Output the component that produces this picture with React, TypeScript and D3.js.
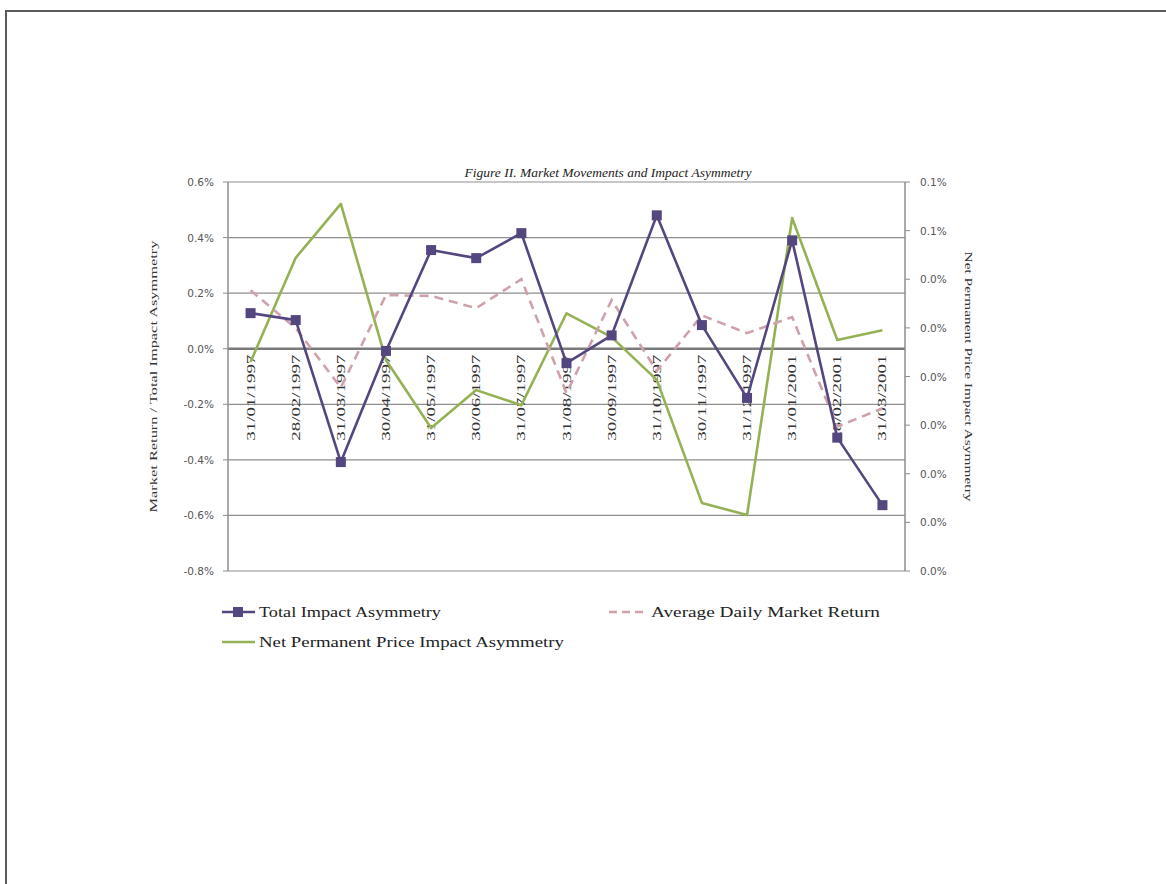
import React from "react";
import * as d3 from "d3";

const categories = [
  "31/01/1997", "28/02/1997", "31/03/1997", "30/04/1997", "31/05/1997",
  "30/06/1997", "31/07/1997", "31/08/1997", "30/09/1997", "31/10/1997",
  "30/11/1997", "31/12/1997", "31/01/2001", "28/02/2001", "31/03/2001",
];

// left axis, in percent
const totalImpact = [
  0.128, 0.103, -0.408, -0.008, 0.355, 0.326, 0.416, -0.052, 0.048, 0.48,
  0.085, -0.177, 0.39, -0.32, -0.563,
];
const marketReturn = [
  0.21, 0.074, -0.14, 0.193, 0.19, 0.146, 0.25, -0.16, 0.175, -0.08, 0.12,
  0.056, 0.114, -0.28, -0.215,
];

// right axis, in percent
const netPermanent = [
  0.023, 0.0444, 0.0555, 0.0234, 0.0094, 0.0172, 0.0141, 0.033, 0.0281,
  0.0193, -0.006, -0.0085, 0.0526, 0.0275, 0.0295,
];

const leftTicks = [0.6, 0.4, 0.2, 0.0, -0.2, -0.4, -0.6, -0.8];
const leftTickLabels = ["0.6%", "0.4%", "0.2%", "0.0%", "-0.2%", "-0.4%", "-0.6%", "-0.8%"];
const rightTicks = [0.06, 0.05, 0.04, 0.03, 0.02, 0.01, 0.0, -0.01, -0.02];
const rightTickLabels = ["0.1%", "0.1%", "0.0%", "0.0%", "0.0%", "0.0%", "0.0%", "0.0%", "0.0%"];

const W = 1166;
const H = 884;
const plot = { left: 228, right: 905, top: 182, bottom: 571 };

const PURPLE = "#54467f";
const PINK = "#cfa1aa";
const GREEN = "#94b254";
const GRID = "#8e8e8e";
const SERIF = "'Liberation Serif', 'DejaVu Serif', serif";
const SANS = "'DejaVu Sans', 'Liberation Sans', sans-serif";

export default function App() {
  const x = d3
    .scalePoint<string>()
    .domain(categories)
    .range([plot.left, plot.right])
    .padding(0.5);
  const yL = d3.scaleLinear().domain([-0.8, 0.6]).range([plot.bottom, plot.top]);
  const yR = d3.scaleLinear().domain([-0.02, 0.06]).range([plot.bottom, plot.top]);

  const lineL = d3
    .line<number>()
    .x((_, i) => x(categories[i]) as number)
    .y((d) => yL(d));
  const lineR = d3
    .line<number>()
    .x((_, i) => x(categories[i]) as number)
    .y((d) => yR(d));

  const zeroY = yL(0);

  return (
    <div style={{ position: "absolute", left: 0, top: 0 }}>
      <svg width={W} height={H} style={{ display: "block", background: "#fff" }}>
        {/* page frame */}
        <path d={`M6,${H} V11 H${W}`} fill="none" stroke="#5a5a5a" strokeWidth={2} />

        <text
          x={608}
          y={177}
          textAnchor="middle"
          fontFamily={SERIF}
          fontStyle="italic"
          fontSize={13.5}
          fill="#222"
        >
          Figure II. Market Movements and Impact Asymmetry
        </text>

        {/* gridlines */}
        {leftTicks.map((t) => (
          <line
            key={"g" + t}
            x1={plot.left}
            x2={plot.right}
            y1={yL(t)}
            y2={yL(t)}
            stroke={t === 0 ? "#7a7a7a" : GRID}
            strokeWidth={t === 0 ? 2.5 : 1.2}
          />
        ))}

        {/* axes */}
        <line x1={plot.left} x2={plot.left} y1={plot.top} y2={plot.bottom} stroke={GRID} strokeWidth={1.5} />
        <line x1={plot.right} x2={plot.right} y1={plot.top} y2={plot.bottom} stroke={GRID} strokeWidth={1.5} />

        {leftTicks.map((t, i) => (
          <g key={"l" + t}>
            <line x1={plot.left - 5} x2={plot.left} y1={yL(t)} y2={yL(t)} stroke={GRID} />
            <text
              x={plot.left - 14}
              y={yL(t) + 4}
              textAnchor="end"
              fontFamily={SANS}
              fontSize={10.5}
              fill="#555"
            >
              {leftTickLabels[i]}
            </text>
          </g>
        ))}

        {rightTicks.map((t, i) => (
          <g key={"r" + t}>
            <line x1={plot.right} x2={plot.right + 5} y1={yR(t)} y2={yR(t)} stroke={GRID} />
            <text
              x={plot.right + 15}
              y={yR(t) + 4}
              textAnchor="start"
              fontFamily={SANS}
              fontSize={10.5}
              fill="#555"
            >
              {rightTickLabels[i]}
            </text>
          </g>
        ))}

        {/* axis titles */}
        <text
          transform={`translate(157, ${(plot.top + plot.bottom) / 2}) rotate(-90)`}
          textAnchor="middle"
          fontFamily={SERIF}
          fontSize={10}
          textLength={272}
          lengthAdjust="spacingAndGlyphs"
          fill="#333"
        >
          Market Return / Total Impact Asymmetry
        </text>
        <text
          transform={`translate(965, ${(plot.top + plot.bottom) / 2}) rotate(90)`}
          textAnchor="middle"
          fontFamily={SERIF}
          fontSize={10}
          textLength={250}
          lengthAdjust="spacingAndGlyphs"
          fill="#333"
        >
          Net Permanent Price Impact Asymmetry
        </text>

        {/* category labels */}
        {categories.map((c) => (
          <text
            key={c}
            transform={`translate(${(x(c) as number) + 4}, ${zeroY + 6}) rotate(-90)`}
            textAnchor="end"
            fontFamily={SERIF}
            fontSize={12}
            textLength={86}
            lengthAdjust="spacingAndGlyphs"
            fill="#333"
          >
            {c}
          </text>
        ))}

        {/* series */}
        <path d={lineR(netPermanent) || ""} fill="none" stroke={GREEN} strokeWidth={2.6} strokeLinejoin="round" />
        <path
          d={lineL(marketReturn) || ""}
          fill="none"
          stroke={PINK}
          strokeWidth={2.6}
          strokeDasharray="9,6"
        />
        <path d={lineL(totalImpact) || ""} fill="none" stroke={PURPLE} strokeWidth={2.6} strokeLinejoin="round" />
        {totalImpact.map((v, i) => (
          <rect
            key={"m" + i}
            x={(x(categories[i]) as number) - 5}
            y={yL(v) - 5}
            width={10}
            height={10}
            fill={PURPLE}
          />
        ))}

        {/* legend */}
        <g fontFamily={SERIF} fontSize={15} fill="#222">
          <line x1={222} x2={255} y1={612} y2={612} stroke={PURPLE} strokeWidth={2.6} />
          <rect x={233} y={607} width={10} height={10} fill={PURPLE} />
          <text x={259} y={617} textLength={182} lengthAdjust="spacingAndGlyphs">
            Total Impact Asymmetry
          </text>

          <line x1={609} x2={645} y1={612} y2={612} stroke={PINK} strokeWidth={2.6} strokeDasharray="8,5" />
          <text x={651} y={617} textLength={229} lengthAdjust="spacingAndGlyphs">
            Average Daily Market Return
          </text>

          <line x1={222} x2={255} y1={642} y2={642} stroke={GREEN} strokeWidth={2.6} />
          <text x={259} y={647} textLength={305} lengthAdjust="spacingAndGlyphs">
            Net Permanent Price Impact Asymmetry
          </text>
        </g>
      </svg>
    </div>
  );
}
